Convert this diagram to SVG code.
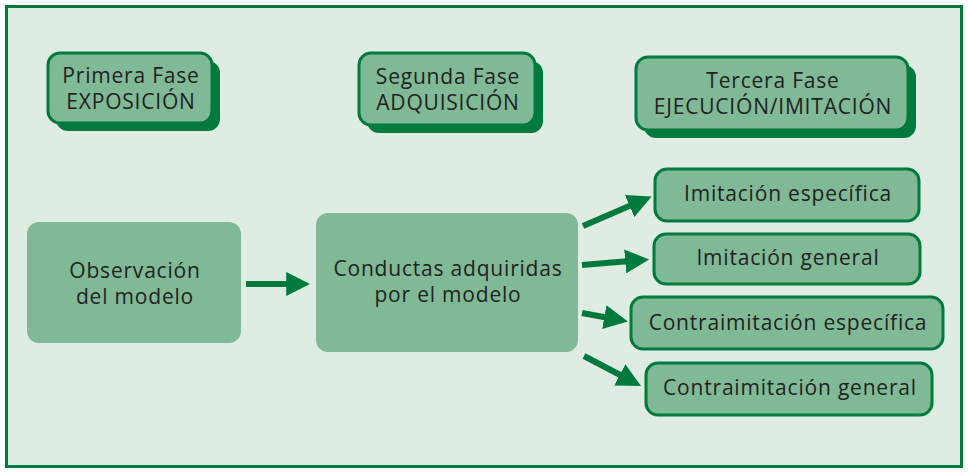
<svg xmlns="http://www.w3.org/2000/svg" width="968" height="472" viewBox="0 0 968 472">
<style>
.frame{fill:#dfece2;stroke:#007a3d;stroke-width:3}
.box{fill:#80b995;stroke:#007a3d;stroke-width:3}
.plain{fill:#80b995}
.shadow{fill:#007a3d}
.t{font-family:"Open Sans","DejaVu Sans",sans-serif;font-size:21px;letter-spacing:0.8px;fill:#222;text-anchor:middle}
.c{stroke:#007a3d;stroke-width:6;fill:none}
</style>
<defs>
<marker id="ah" viewBox="0 0 10 10" refX="2" refY="5" markerWidth="4" markerHeight="4" markerUnits="strokeWidth" orient="auto">
<path d="M0,0 L10,5 L0,10 Z" fill="#007a3d"/>
</marker>
</defs>
<rect class="frame" x="6.5" y="6.5" width="955" height="460"/>
<g id="fase1">
<rect class="shadow" x="56" y="61" width="164" height="70" rx="12"/>
<rect class="box" x="48" y="53" width="164" height="70" rx="12"/>
<text class="t" x="131" y="82.5"><tspan x="131">Primera Fase</tspan><tspan x="131" dy="26">EXPOSICIÓN</tspan></text>
</g>
<g id="fase2">
<rect class="shadow" x="367" y="61" width="176" height="72" rx="12"/>
<rect class="box" x="359" y="53" width="176" height="72" rx="12"/>
<text class="t" x="448" y="83.5"><tspan x="448">Segunda Fase</tspan><tspan x="448" dy="26">ADQUISICIÓN</tspan></text>
</g>
<g id="fase3">
<rect class="shadow" x="644" y="65" width="272" height="73" rx="12"/>
<rect class="box" x="636" y="57" width="272" height="73" rx="12"/>
<text class="t" x="773" y="87.5"><tspan x="773">Tercera Fase</tspan><tspan x="773" dy="26">EJECUCIÓN/IMITACIÓN</tspan></text>
</g>
<g id="observacion">
<rect class="plain" x="27" y="222" width="214" height="121" rx="12"/>
<text class="t" x="135" y="278"><tspan x="135">Observación</tspan><tspan x="135" dy="26">del modelo</tspan></text>
</g>
<g id="conductas">
<rect class="plain" x="316" y="213" width="262" height="139" rx="12"/>
<text class="t" x="448" y="276"><tspan x="448">Conductas adquiridas</tspan><tspan x="448" dy="26">por el modelo</tspan></text>
</g>
<g id="imitacion-especifica">
<rect class="box" x="655" y="169" width="264" height="52" rx="12"/>
<text class="t" x="788" y="201">Imitación específica</text>
</g>
<g id="imitacion-general">
<rect class="box" x="654" y="234" width="266" height="50" rx="12"/>
<text class="t" x="788" y="265">Imitación general</text>
</g>
<g id="contraimitacion-especifica">
<rect class="box" x="631" y="297" width="312" height="52" rx="12"/>
<text class="t" x="788" y="330">Contraimitación específica</text>
</g>
<g id="contraimitacion-general">
<rect class="box" x="646" y="363" width="286" height="52" rx="12"/>
<text class="t" x="790" y="395">Contraimitación general</text>
</g>
<g id="connectors">
<line class="c" x1="246" y1="284" x2="291" y2="284" marker-end="url(#ah)"/>
<line class="c" x1="583" y1="226" x2="634" y2="204" marker-end="url(#ah)"/>
<line class="c" x1="582" y1="265" x2="630" y2="261" marker-end="url(#ah)"/>
<line class="c" x1="582" y1="313" x2="609" y2="318" marker-end="url(#ah)"/>
<line class="c" x1="584" y1="356" x2="624" y2="377" marker-end="url(#ah)"/>
</g>
</svg>
